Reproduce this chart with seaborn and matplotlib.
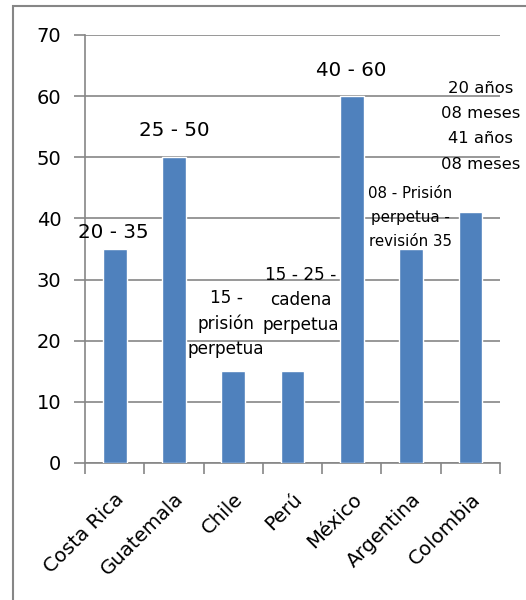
import matplotlib
matplotlib.use("Agg")
import matplotlib.pyplot as plt
from matplotlib.patches import Rectangle
from matplotlib.ticker import FixedLocator
import seaborn as sns

countries = ["Costa Rica", "Guatemala", "Chile", "Perú", "México", "Argentina", "Colombia"]
values = [35, 50, 15, 15, 60, 35, 41]
labels = [
    "20 - 35",
    "25 - 50",
    "15 -\nprisión\nperpetua",
    "15 - 25 -\ncadena\nperpetua",
    "40 - 60",
    "08 - Prisión\nperpetua -\nrevisión 35",
    "20 años\n08 meses\n41 años\n08 meses",
]
# per-label font size, line spacing and pixel offset (dx, dy) of the label centre from the bar top
label_style = [
    (14.3, 1.3, (-1, 16)),
    (14.3, 1.3, (0, 27)),
    (12.2, 1.5, (-7, 48)),
    (12.2, 1.5, (8, 71)),
    (14.3, 1.3, (-1, 26)),
    (10.8, 1.75, (-1, 31)),
    (11.8, 1.85, (10, 86)),
]
yticks = [0, 10, 20, 30, 40, 50, 60, 70]

sns.set_theme(style="white")
plt.rcParams["font.family"] = ["DejaVu Sans"]

grid_color = "#868686"
fig = plt.figure(figsize=(5.26, 6.0), dpi=100)
ax = fig.add_axes([85 / 526, 1 - 463 / 600, 415 / 526, 428 / 600])

sns.barplot(x=countries, y=values, color="#4F81BD", saturation=1, width=0.4, ax=ax, zorder=3)

ax.set_xlim(-0.5, len(countries) - 0.5)
ax.set_ylim(0, 70)
ax.set_yticks(yticks)
ax.yaxis.grid(True, color=grid_color, linewidth=1.2, zorder=0)
ax.set_axisbelow(True)
ax.set_xlabel("")
ax.set_ylabel("")

for side in ["top", "right"]:
    ax.spines[side].set_visible(False)
for side in ["left", "bottom"]:
    ax.spines[side].set_color(grid_color)
    ax.spines[side].set_linewidth(1.2)

ax.tick_params(axis="y", which="major", left=True, length=8, width=1.2, color=grid_color,
               labelsize=14, labelcolor="black", pad=9)
ax.tick_params(axis="x", which="major", bottom=False, labelsize=14.2, labelcolor="black", pad=13)
ax.xaxis.set_minor_locator(FixedLocator([i - 0.5 for i in range(len(countries) + 1)]))
ax.tick_params(axis="x", which="minor", bottom=True, length=8, width=1.2, color=grid_color)
for lbl in ax.get_xticklabels():
    lbl.set_rotation(45)
    lbl.set_ha("right")
    lbl.set_rotation_mode("anchor")

for i, (txt, v) in enumerate(zip(labels, values)):
    size, spacing, (dx, dy) = label_style[i]
    ax.annotate(txt, xy=(i, v), xytext=(dx, dy), textcoords="offset pixels",
                ha="center", va="center", multialignment="center", fontsize=size,
                color="black", linespacing=spacing, annotation_clip=False, zorder=5)

# outer chart frame
fig.patches.append(Rectangle((13 / 526, -0.05), 1.2, 1 - 6 / 600 + 0.05,
                             transform=fig.transFigure, fill=False,
                             edgecolor=grid_color, linewidth=1.5))

fig.savefig("out.png", dpi=100)
